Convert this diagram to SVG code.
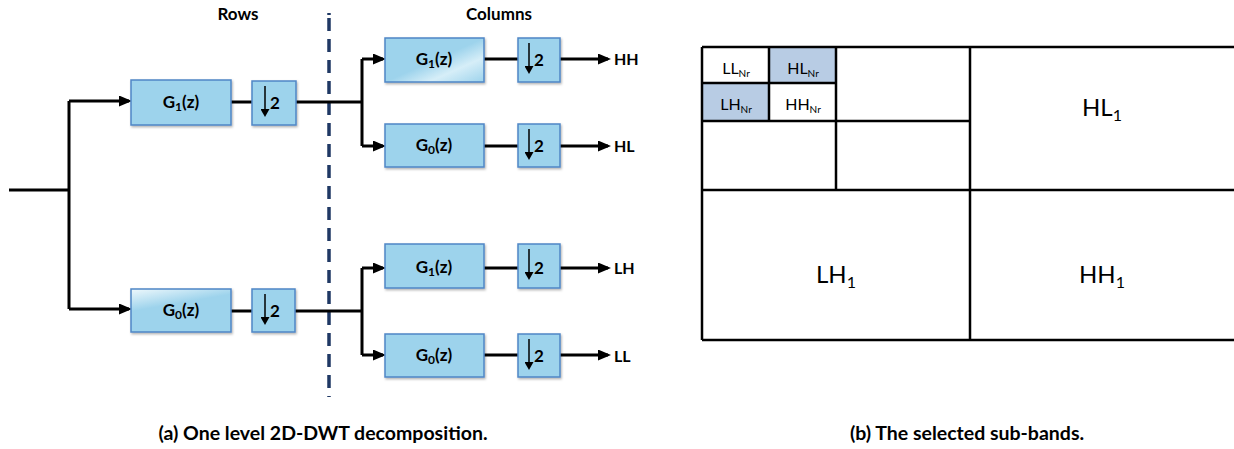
<svg xmlns="http://www.w3.org/2000/svg" width="1234" height="449" viewBox="0 0 1234 449">
  <style>
    .box { fill: #9dd3ec; stroke: #4f86c6; stroke-width: 1.5; filter: url(#sh); }
    .lbl { font-family: Lato, "Liberation Sans", sans-serif; font-weight: bold; font-size: 17px; fill: #000; }
    .out { font-family: Lato, "Liberation Sans", sans-serif; font-weight: bold; font-size: 16px; fill: #000; }
    .cap { font-family: Lato, "Liberation Sans", sans-serif; font-weight: bold; font-size: 19.5px; fill: #000; }
    .gt { font-family: Lato, "Liberation Sans", sans-serif; font-size: 16px; fill: #000; }
    .gb { font-family: Lato, "Liberation Sans", sans-serif; font-size: 24px; fill: #000; }
    .wire { fill: none; stroke: #000; stroke-width: 3; }
    .arr { fill: none; stroke: #000; stroke-width: 3; marker-end: url(#ah); }
    .dn { fill: none; stroke: #000; stroke-width: 1.5; marker-end: url(#dh); }
    .grid { fill: none; stroke: #000; stroke-width: 2.5; }
    .shade { fill: #b8cce4; }
  </style>
  <defs>
    <marker id="ah" markerUnits="userSpaceOnUse" markerWidth="13" markerHeight="11" refX="10" refY="5.5" orient="auto">
      <path d="M0,0 L13,5.5 L0,11 z" fill="#000"/>
    </marker>
    <marker id="dh" markerUnits="userSpaceOnUse" markerWidth="8" markerHeight="9" refX="3" refY="4.5" orient="auto">
      <path d="M0,0 L8,4.5 L0,9 z" fill="#000"/>
    </marker>
    <filter id="sh" x="-10%" y="-10%" width="130%" height="140%">
      <feDropShadow dx="1" dy="1.5" stdDeviation="1" flood-color="#000" flood-opacity="0.3"/>
    </filter>
    <linearGradient id="gA" x1="0" y1="0" x2="1" y2="1">
      <stop offset="0" stop-color="#9dd3ec"/>
      <stop offset="0.5" stop-color="#9dd3ec"/>
      <stop offset="0.72" stop-color="#d6eef8"/>
      <stop offset="1" stop-color="#9dd3ec"/>
    </linearGradient>
    <linearGradient id="gB" x1="0" y1="0" x2="0.4" y2="1">
      <stop offset="0" stop-color="#eef8fc"/>
      <stop offset="0.45" stop-color="#9dd3ec"/>
      <stop offset="1" stop-color="#9dd3ec"/>
    </linearGradient>
  </defs>

  <!-- header labels -->
  <text class="lbl" x="238" y="20" text-anchor="middle">Rows</text>
  <text class="lbl" x="499" y="20" text-anchor="middle">Columns</text>

  <!-- separator -->
  <line x1="329" y1="13" x2="329" y2="15" stroke="#1f3864" stroke-width="3.5"/>
  <line x1="329" y1="18" x2="329" y2="397" stroke="#1f3864" stroke-width="3.5" stroke-dasharray="13 8"/>

  <!-- connectors -->
  <g id="connectors">
    <path class="wire" d="M9,190 H69 M69,101 V309"/>
    <path class="arr" d="M69,101 H129"/>
    <path class="arr" d="M69,309 H129"/>
    <path class="wire" d="M231,102 H252 M296,102 H362 M362,59 V146"/>
    <path class="arr" d="M362,59 H383"/>
    <path class="arr" d="M362,146 H383"/>
    <path class="wire" d="M484,59 H518 M484,146 H518"/>
    <path class="arr" d="M560,59 H608"/>
    <path class="arr" d="M560,146 H608"/>
    <path class="wire" d="M231,311 H252 M295,311 H362 M362,268 V355"/>
    <path class="arr" d="M362,268 H383"/>
    <path class="arr" d="M362,355 H383"/>
    <path class="wire" d="M484,268 H518 M484,355 H518"/>
    <path class="arr" d="M560,268 H608"/>
    <path class="arr" d="M560,355 H608"/>
  </g>

  <!-- rows stage -->
  <g id="rowG1">
    <rect class="box" x="131" y="80" width="100" height="45"/>
    <text class="lbl" x="181" y="108" text-anchor="middle">G<tspan font-size="12" dy="3">1</tspan><tspan dy="-3">(z)</tspan></text>
  </g>
  <g id="rowD1">
    <rect class="box" x="252" y="81" width="44" height="44"/>
    <line class="dn" x1="265" y1="86" x2="265" y2="112"/>
    <text class="lbl" x="270" y="109" font-size="18">2</text>
  </g>
  <g id="rowG0">
    <rect class="box" x="131" y="289" width="100" height="43" style="fill:url(#gB)"/>
    <text class="lbl" x="181" y="316" text-anchor="middle">G<tspan font-size="12" dy="3">0</tspan><tspan dy="-3">(z)</tspan></text>
  </g>
  <g id="rowD0">
    <rect class="box" x="252" y="289" width="43" height="43"/>
    <line class="dn" x1="265" y1="294" x2="265" y2="320"/>
    <text class="lbl" x="270" y="317" font-size="18">2</text>
  </g>

  <!-- columns stage -->
  <g id="colHG1">
    <rect class="box" x="385" y="38" width="99" height="44" style="fill:url(#gA)"/>
    <text class="lbl" x="434" y="65" text-anchor="middle">G<tspan font-size="12" dy="3">1</tspan><tspan dy="-3">(z)</tspan></text>
  </g>
  <g id="colHD1">
    <rect class="box" x="518" y="38" width="42" height="44"/>
    <line class="dn" x1="529" y1="43" x2="529" y2="69"/>
    <text class="lbl" x="534" y="66" font-size="18">2</text>
  </g>
  <g id="outHH"><text class="out" x="614" y="65">HH</text></g>

  <g id="colHG0">
    <rect class="box" x="385" y="124" width="99" height="43"/>
    <text class="lbl" x="434" y="151" text-anchor="middle">G<tspan font-size="12" dy="3">0</tspan><tspan dy="-3">(z)</tspan></text>
  </g>
  <g id="colHD0">
    <rect class="box" x="518" y="124" width="42" height="43"/>
    <line class="dn" x1="529" y1="129" x2="529" y2="155"/>
    <text class="lbl" x="534" y="152" font-size="18">2</text>
  </g>
  <g id="outHL"><text class="out" x="614" y="152">HL</text></g>

  <g id="colLG1">
    <rect class="box" x="385" y="244" width="99" height="44"/>
    <text class="lbl" x="434" y="273" text-anchor="middle">G<tspan font-size="12" dy="3">1</tspan><tspan dy="-3">(z)</tspan></text>
  </g>
  <g id="colLD1">
    <rect class="box" x="518" y="244" width="42" height="44"/>
    <line class="dn" x1="529" y1="249" x2="529" y2="275"/>
    <text class="lbl" x="534" y="274" font-size="18">2</text>
  </g>
  <g id="outLH"><text class="out" x="614" y="274">LH</text></g>

  <g id="colLG0">
    <rect class="box" x="385" y="334" width="99" height="43"/>
    <text class="lbl" x="434" y="361" text-anchor="middle">G<tspan font-size="12" dy="3">0</tspan><tspan dy="-3">(z)</tspan></text>
  </g>
  <g id="colLD0">
    <rect class="box" x="518" y="334" width="42" height="43"/>
    <line class="dn" x1="529" y1="339" x2="529" y2="365"/>
    <text class="lbl" x="534" y="362" font-size="18">2</text>
  </g>
  <g id="outLL"><text class="out" x="614" y="362">LL</text></g>

  <!-- sub-band grid -->
  <g id="subbands">
    <rect class="shade" x="769" y="47" width="67" height="36"/>
    <rect class="shade" x="702" y="83" width="67" height="38"/>
    <path class="grid" d="M702,47 H1234 M702,190 H1234 M702,340 H1234 M702,47 V340 M970,47 V340 M836,47 V190 M702,121 H970 M702,83 H836 M769,47 V121"/>
    <text class="gt" x="736" y="74" text-anchor="middle">LL<tspan font-size="10" dy="3">Nr</tspan></text>
    <text class="gt" x="803" y="74" text-anchor="middle">HL<tspan font-size="10" dy="3">Nr</tspan></text>
    <text class="gt" x="736" y="110" text-anchor="middle">LH<tspan font-size="10" dy="3">Nr</tspan></text>
    <text class="gt" x="803" y="110" text-anchor="middle">HH<tspan font-size="10" dy="3">Nr</tspan></text>
    <text class="gb" x="1102" y="116" text-anchor="middle">HL<tspan font-size="16" dy="5">1</tspan></text>
    <text class="gb" x="836" y="283" text-anchor="middle">LH<tspan font-size="16" dy="5">1</tspan></text>
    <text class="gb" x="1102" y="283" text-anchor="middle">HH<tspan font-size="16" dy="5">1</tspan></text>
  </g>

  <!-- captions -->
  <text class="cap" x="323" y="440" text-anchor="middle">(a) One level 2D-DWT decomposition.</text>
  <text class="cap" x="967" y="440" text-anchor="middle">(b) The selected sub-bands.</text>
</svg>
